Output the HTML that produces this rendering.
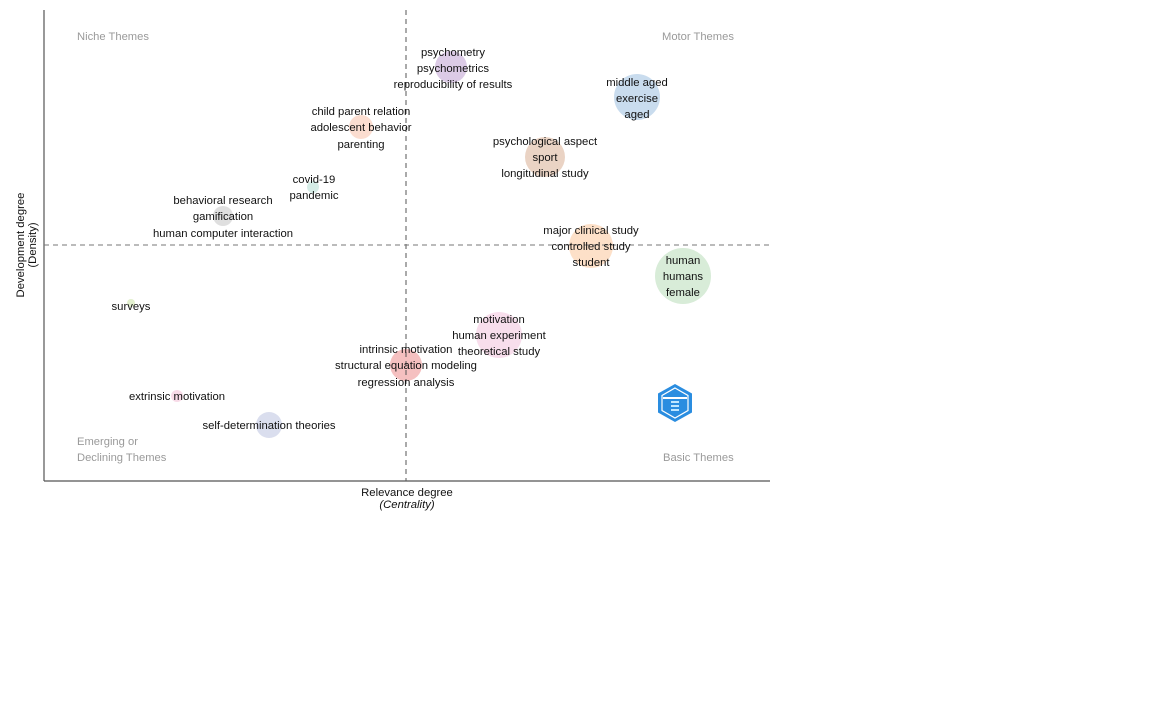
<!DOCTYPE html>
<html><head><meta charset="utf-8"><style>
html,body{margin:0;padding:0;background:#fff;width:1152px;height:720px;overflow:hidden}
svg{display:block}
text{font-family:"Liberation Sans",Arial,sans-serif}
.l{font-size:11.3px;fill:#111;text-anchor:middle}
.q{font-size:11.2px;fill:#9a9a9a}
</style></head><body>
<svg width="1152" height="720" viewBox="0 0 1152 720" xmlns="http://www.w3.org/2000/svg">
<rect width="1152" height="720" fill="#fff"/>
<circle cx="451" cy="67" r="16" fill="#dccbe6"/>
<circle cx="637" cy="97" r="23" fill="#c9dcee"/>
<circle cx="545" cy="157" r="20" fill="#ead3c4"/>
<circle cx="361" cy="127" r="12" fill="#fbddd0"/>
<circle cx="313" cy="187" r="6" fill="#d5ece6"/>
<circle cx="223" cy="216" r="10" fill="#dfdfdf"/>
<circle cx="591" cy="246" r="22" fill="#fde0c8"/>
<circle cx="683" cy="276" r="28" fill="#d8ecd8"/>
<circle cx="131" cy="303" r="4" fill="#e3f0cf"/>
<circle cx="499" cy="335" r="23" fill="#f8deec"/>
<circle cx="406" cy="365" r="16" fill="#f5c0c0"/>
<circle cx="177" cy="396" r="6" fill="#f8dbe8"/>
<circle cx="269" cy="425" r="13" fill="#dadeee"/>
<line x1="44" y1="10" x2="44" y2="481" stroke="#555" stroke-width="1.2"/>
<line x1="44" y1="481" x2="770" y2="481" stroke="#555" stroke-width="1.2"/>
<line x1="406" y1="10" x2="406" y2="481" stroke="#555" stroke-width="1" stroke-dasharray="5,4"/>
<line x1="44" y1="245" x2="770" y2="245" stroke="#777" stroke-width="1" stroke-dasharray="5,4"/>
<text class="q" x="77" y="40">Niche Themes</text>
<text class="q" x="662" y="40">Motor Themes</text>
<text class="q" x="77" y="445">Emerging or</text>
<text class="q" x="77" y="461">Declining Themes</text>
<text class="q" x="663" y="461">Basic Themes</text>
<text class="l" x="407" y="496">Relevance degree</text>
<text class="l" x="407" y="508" font-style="italic">(Centrality)</text>
<text class="l" transform="translate(24,245) rotate(-90)">Development degree</text>
<text class="l" transform="translate(36,245) rotate(-90)">(Density)</text>
<text class="l" x="453" y="56">psychometry</text>
<text class="l" x="453" y="72">psychometrics</text>
<text class="l" x="453" y="88">reproducibility of results</text>
<text class="l" x="637" y="86">middle aged</text>
<text class="l" x="637" y="102">exercise</text>
<text class="l" x="637" y="118">aged</text>
<text class="l" x="545" y="145">psychological aspect</text>
<text class="l" x="545" y="161">sport</text>
<text class="l" x="545" y="177">longitudinal study</text>
<text class="l" x="361" y="115">child parent relation</text>
<text class="l" x="361" y="131">adolescent behavior</text>
<text class="l" x="361" y="148">parenting</text>
<text class="l" x="314" y="183">covid-19</text>
<text class="l" x="314" y="199">pandemic</text>
<text class="l" x="223" y="204">behavioral research</text>
<text class="l" x="223" y="220">gamification</text>
<text class="l" x="223" y="237">human computer interaction</text>
<text class="l" x="591" y="234">major clinical study</text>
<text class="l" x="591" y="250">controlled study</text>
<text class="l" x="591" y="266">student</text>
<text class="l" x="683" y="264">human</text>
<text class="l" x="683" y="280">humans</text>
<text class="l" x="683" y="296">female</text>
<text class="l" x="131" y="310">surveys</text>
<text class="l" x="499" y="323">motivation</text>
<text class="l" x="499" y="339">human experiment</text>
<text class="l" x="499" y="355">theoretical study</text>
<text class="l" x="406" y="353">intrinsic motivation</text>
<text class="l" x="406" y="369">structural equation modeling</text>
<text class="l" x="406" y="386">regression analysis</text>
<text class="l" x="177" y="400">extrinsic motivation</text>
<text class="l" x="269" y="429">self-determination theories</text>
<polygon points="675,384 692,393.5 692,412.5 675,422 658,412.5 658,393.5" fill="#2a8de0"/>
<polygon points="675,388 688,395.5 688,410.5 675,418 662,410.5 662,395.5" fill="none" stroke="#fff" stroke-width="1.2"/>
<rect x="663" y="397" width="24" height="2" fill="#fff"/>
<rect x="671" y="401" width="8" height="2" fill="#bfe6ff"/>
<rect x="671" y="405" width="8" height="2" fill="#bfe6ff"/>
<rect x="671" y="409" width="8" height="2" fill="#bfe6ff"/>
</svg>
</body></html>
